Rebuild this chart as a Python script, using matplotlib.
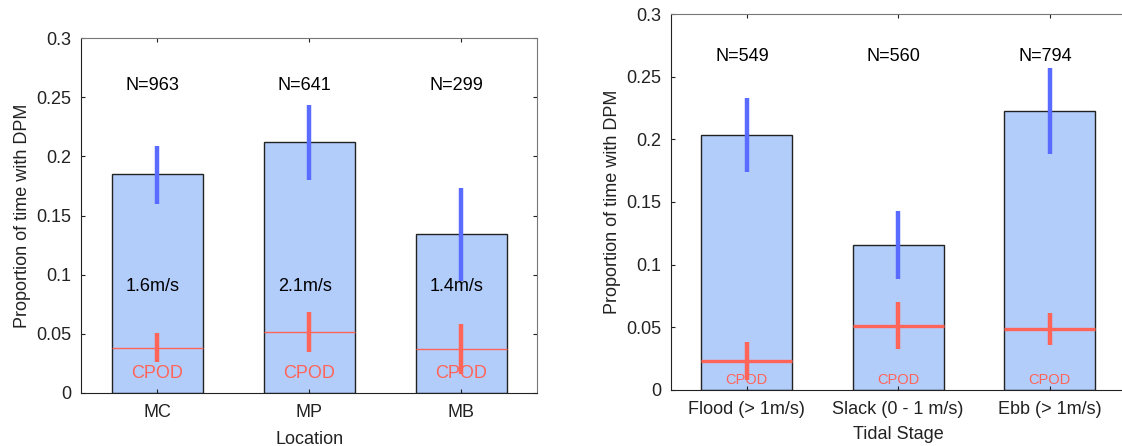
import numpy as np
import matplotlib.pyplot as plt

plt.rcParams['font.family'] = ['Liberation Sans', 'DejaVu Sans']

# left panel: by location
loc_names = ["MC", "MP", "MB"]
loc_dpm = [0.185, 0.212, 0.134]
loc_dpm_lo = [0.160, 0.180, 0.0945]
loc_dpm_hi = [0.209, 0.244, 0.173]
loc_cpod = [0.038, 0.0514, 0.0367]
loc_cpod_lo = [0.0262, 0.0344, 0.0156]
loc_cpod_hi = [0.0505, 0.0683, 0.0584]
loc_n = ["N=963", "N=641", "N=299"]
loc_speed = ["1.6m/s", "2.1m/s", "1.4m/s"]

# right panel: by tidal stage
tide_names = ["Flood (> 1m/s)", "Slack (0 - 1 m/s)", "Ebb (> 1m/s)"]
tide_dpm = [0.2037, 0.1157, 0.2227]
tide_dpm_lo = [0.1742, 0.0888, 0.1883]
tide_dpm_hi = [0.233, 0.1426, 0.2567]
tide_cpod = [0.0234, 0.0513, 0.0487]
tide_cpod_lo = [0.008, 0.0327, 0.0359]
tide_cpod_hi = [0.0383, 0.070, 0.0615]
tide_n = ["N=549", "N=560", "N=794"]

BAR = "#b3cdfb"
BLUE = "#5a6bff"
RED = "#ff6459"
FS = 13

fig = plt.figure(figsize=(11.22, 4.46), dpi=100)
ax1 = fig.add_axes([0.0725, 0.1195, 0.4065, 0.7945])
ax2 = fig.add_axes([0.598, 0.1256, 0.405, 0.843])


def panel(ax, names, dpm, lo, hi, cpod, clo, chi, nlab, cpod_lw, cpod_fs, n_y, cpod_y, right_ticks):
    x = np.arange(1, len(names) + 1)
    ax.bar(x, dpm, width=0.6, color=BAR, edgecolor="#222222", linewidth=1.0, zorder=1)
    ax.vlines(x, lo, hi, color=BLUE, linewidth=3.2, zorder=3)
    ax.hlines(cpod, x - 0.3, x + 0.3, color=RED, linewidth=cpod_lw, zorder=3)
    ax.vlines(x, clo, chi, color=RED, linewidth=3.2, zorder=4)
    for xi, t in zip(x, nlab):
        ax.text(xi - 0.03, n_y, t, ha="center", va="center", fontsize=FS)
    for xi in x:
        ax.text(xi, cpod_y, "CPOD", ha="center", va="center", fontsize=cpod_fs,
                color=RED, zorder=2)
    ax.set_xlim(0.5, 3.5)
    ax.set_ylim(0, 0.3)
    ax.set_xticks(x)
    ax.set_xticklabels(names)
    ax.set_yticks([0, 0.05, 0.1, 0.15, 0.2, 0.25, 0.3])
    ax.set_yticklabels(["0", "0.05", "0.1", "0.15", "0.2", "0.25", "0.3"])
    ax.tick_params(direction="in", length=3, width=0.8, top=True, right=right_ticks,
                   labelsize=FS, colors="#222222", pad=7)
    ax.tick_params(axis="x", pad=8)
    for s in ["left", "bottom"]:
        ax.spines[s].set_color("#222222")
    for s in ["top", "right"]:
        ax.spines[s].set_color("#777777")
    ax.set_ylabel("Proportion of time with DPM", fontsize=FS, color="#222222", labelpad=4)


panel(ax1, loc_names, loc_dpm, loc_dpm_lo, loc_dpm_hi, loc_cpod, loc_cpod_lo,
      loc_cpod_hi, loc_n, 1.0, 13, 0.2604, 0.0164, True)
for xi, t in zip(np.arange(1, 4), loc_speed):
    ax1.text(xi - 0.03, 0.0903, t, ha="center", va="center", fontsize=FS)
ax1.set_xlabel("Location", fontsize=FS, color="#222222", labelpad=7)

panel(ax2, tide_names, tide_dpm, tide_dpm_lo, tide_dpm_hi, tide_cpod, tide_cpod_lo,
      tide_cpod_hi, tide_n, 2.4, 10.5, 0.2661, 0.008, False)
ax2.set_xlabel("Tidal Stage", fontsize=FS, color="#222222", labelpad=6)

fig.savefig("out.png", dpi=100)
